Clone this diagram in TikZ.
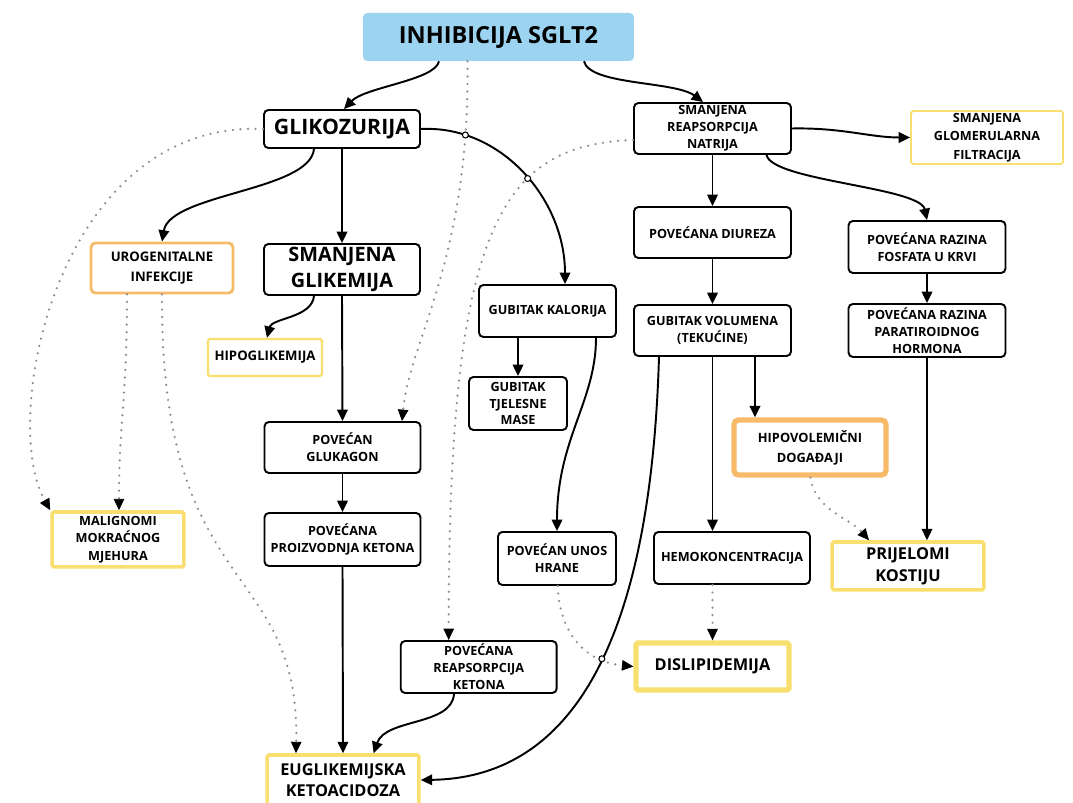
\documentclass[tikz,border=0pt]{standalone}
\usepackage{fontspec}
\setmainfont{Open Sans}
\usetikzlibrary{calc}
\usetikzlibrary{positioning}
\usetikzlibrary{arrows.meta}
\usetikzlibrary{intersections}

\definecolor{skyfill}{RGB}{155,211,240}
\definecolor{warnorange}{RGB}{246,186,104}
\definecolor{warnyellow}{RGB}{249,222,112}
\definecolor{dotgray}{RGB}{140,140,140}

\tikzset{
  box/.style={draw=black, line width=1.1pt, rounded corners=2.5pt, align=center, inner sep=0.5pt, font=\fontsize{7.2}{9.6}\selectfont\bfseries},
  bigbox/.style={box, font=\fontsize{11.3}{15}\selectfont\bfseries},
  topbox/.style={fill=skyfill, rounded corners=2.5pt, align=center, font=\fontsize{13.4}{15}\selectfont\bfseries},
  orangebox/.style={box, draw=warnorange},
  yellowbox/.style={box, draw=warnyellow, rounded corners=1pt},
  arr/.style={draw=black, line width=1.1pt, -{Triangle[length=6.5pt,width=6pt]}},
  dotarr/.style={draw=dotgray, line width=1.4pt, line cap=round, dash pattern=on 0pt off 4.3pt, -{Triangle[length=6.5pt,width=6pt,color=black,line width=0.5pt]}},
  hop/.style={draw=black, fill=white, line width=0.6pt}
}

\begin{document}
\begin{tikzpicture}[x=0.02cm, y=-0.02cm]
    \useasboundingbox (0,0) rectangle (1073,803);

    % Top
    \node[topbox, minimum width=5.42cm, minimum height=0.96cm] (inh) at (498.5,37) {INHIBICIJA SGLT2};

    % Glukoza branch
    \node[bigbox, font=\fontsize{12.1}{15}\selectfont\bfseries, minimum width=3.12cm, minimum height=0.76cm] (glik) at (342,129) {GLIKOZURIJA};
    \node[bigbox, minimum width=3.12cm, minimum height=1.02cm] (sglik) at (342,269.5) {SMANJENA\\GLIKEMIJA};
    \node[orangebox, line width=1.6pt, font=\fontsize{7.5}{11.3}\selectfont\bfseries, minimum width=2.84cm, minimum height=1cm] (uro) at (162,268) {UROGENITALNE\\INFEKCIJE};
    \node[yellowbox, line width=1.3pt, font=\fontsize{7.5}{9.6}\selectfont\bfseries, minimum width=2.28cm, minimum height=0.74cm] (hipo) at (265,357.5) {HIPOGLIKEMIJA};
    \node[box, minimum width=3.12cm, minimum height=1.02cm] (pglu) at (342.5,447.5) {POVEĆAN\\GLUKAGON};
    \node[box, minimum width=3.12cm, minimum height=1.06cm] (pket) at (342.5,539.5) {POVEĆANA\\PROIZVODNJA KETONA};
    \node[yellowbox, line width=2pt, font=\fontsize{7.2}{9.9}\selectfont\bfseries, minimum width=2.64cm, minimum height=1.1cm] (malig) at (118,539.5) {MALIGNOMI\\MOKRAĆNOG\\MJEHURA};
    \node[box, minimum width=3.12cm, minimum height=1.04cm] (prk) at (478.7,667) {POVEĆANA\\REAPSORPCIJA\\KETONA};
    \node[yellowbox, line width=2pt, font=\fontsize{9.3}{12}\selectfont\bfseries, minimum width=3.04cm, minimum height=1cm] (eugl) at (343,780) {EUGLIKEMIJSKA\\KETOACIDOZA};

    % Kalorije
    \node[box, minimum width=2.74cm, minimum height=1.04cm] (gkal) at (547.5,311) {GUBITAK KALORIJA};
    \node[box, minimum width=1.96cm, minimum height=1.06cm] (gtm) at (518,403.5) {GUBITAK\\TJELESNE\\MASE};
    \node[box, minimum width=2.36cm, minimum height=1.06cm] (punos) at (557,558.5) {POVEĆAN UNOS\\HRANE};

    % Natrij branch
    \node[box, minimum width=3.14cm, minimum height=1.02cm] (srn) at (712.5,128.5) {SMANJENA\\REAPSORPCIJA\\NATRIJA};
    \node[yellowbox, line width=1pt, font=\fontsize{7.2}{10.4}\selectfont\bfseries, minimum width=3.04cm, minimum height=1.06cm] (sgf) at (987,137.5) {SMANJENA\\GLOMERULARNA\\FILTRACIJA};
    \node[box, minimum width=3.14cm, minimum height=1.02cm] (pdiur) at (712.5,232.5) {POVEĆANA DIUREZA};
    \node[box, minimum width=3.14cm, minimum height=1.02cm] (gvol) at (712.5,330.5) {GUBITAK VOLUMENA\\(TEKUĆINE)};
    \node[box, minimum width=3.14cm, minimum height=1.04cm] (pfos) at (927,247) {POVEĆANA RAZINA\\FOSFATA U KRVI};
    \node[box, minimum width=3.14cm, minimum height=1.06cm] (ppar) at (927,330.5) {POVEĆANA RAZINA\\PARATIROIDNOG\\HORMONA};
    \node[orangebox, line width=3pt, font=\fontsize{7.3}{11.3}\selectfont\bfseries, minimum width=3.04cm, minimum height=1.1cm] (hipov) at (810,447.5) {HIPOVOLEMIČNI\\DOGAĐAJI};
    \node[box, minimum width=3.12cm, minimum height=1.04cm] (hemo) at (732,558) {HEMOKONCENTRACIJA};
    \node[yellowbox, line width=2pt, font=\fontsize{9.3}{12.3}\selectfont\bfseries, minimum width=3.04cm, minimum height=0.96cm] (prij) at (908,566) {PRIJELOMI\\KOSTIJU};
    \node[yellowbox, line width=3pt, font=\fontsize{9.3}{12}\selectfont\bfseries, minimum width=3.06cm, minimum height=0.94cm] (disl) at (712.5,666.5) {DISLIPIDEMIJA};

    % Straight arrows
    \foreach \a/\b in {glik/sglik, sglik/pglu, pglu/pket, pket/eugl, srn/pdiur, pdiur/gvol, pfos/ppar} {
        \draw[arr] (\a.south) -- (\b.north);
    }
    \draw[arr] (gtm.north |- gkal.south) -- (gtm.north);
    \draw[arr] (gvol.south) -- (gvol.south |- hemo.north);
    \coordinate (gvolR) at ($(gvol.south)+(42.5,0)$);
    \draw[arr] (gvolR) -- (gvolR |- hipov.north);
    \draw[arr] (ppar.south) -- (ppar.south |- prij.north);

    % Curved arrows
    \draw[arr] ($(inh.south)+(-59.5,0)$) .. controls +(-4,19) and +(21,-22) .. ($(glik.north)+(2,0)$);
    \draw[arr] ($(inh.south)+(85.5,0)$) .. controls +(6,24) and +(-28,-21) .. ($(srn.north)+(-9.5,0)$);
    \draw[arr, name path=arcK] (glik.east) .. controls +(80,-4) and +(0,-85) .. ($(gkal.north)+(17.5,0)$);
    \draw[arr] ($(glik.south)+(-28,0)$) .. controls +(-4,42) and +(8,-48) .. (uro.north);
    \draw[arr] ($(sglik.south)+(-28,0)$) .. controls +(-2,22) and +(5,-20) .. ($(hipo.north)+(2,0)$);
    \draw[arr] ($(prk.south)+(-24.7,0)$) .. controls +(-2,32) and +(12,-35) .. ($(eugl.north)+(30.6,0)$);
    \draw[arr] ($(gkal.south)+(48.5,0)$) .. controls +(0,63) and +(0,-92) .. (punos.north);
    \draw[arr] (srn.east) .. controls +(50,-1) and +(-40,0) .. (sgf.west);
    \draw[arr] ($(srn.south)+(54,0)$) .. controls +(5.5,26) and +(-7,-33) .. (pfos.north);
    \draw[arr, name path=arcE] ($(gvol.south)+(-53.5,0)$) .. controls +(-9,304) and +(141,-2) .. (eugl.east);

    % Dotted arrows
    \draw[dotarr, name path=dotA] ($(inh.south)+(-31,0)$) .. controls +(2.5,199) and +(8,-82) .. ($(pglu.north)+(59.5,0)$);
    \draw[dotarr, name path=dotB] ($(srn.west)+(0,11.5)$) .. controls +(-134,5) and +(0,-411) .. ($(prk.north)+(-30,0)$);
    \draw[dotarr] (glik.west) .. controls +(-204.5,-9) and +(-51.7,-92) .. (malig.north west);
    \draw[dotarr] ($(uro.south)+(-35,0)$) .. controls +(0,107) and +(0,-92) .. ($(malig.north)+(1,0)$);
    \draw[dotarr] (uro.south) .. controls +(-2,307) and +(4,-195) .. ($(eugl.north)+(-47,0)$);
    \draw[dotarr] ($(hipov.south)+(0.5,0)$) .. controls +(5,33) and +(-19,-22) .. ($(prij.north)+(-39,0)$);
    \draw[dotarr] (disl.north |- hemo.south) -- (disl.north);
    \draw[dotarr, name path=dotH] ($(punos.south)+(0.7,0)$) .. controls +(2,50) and +(-46,-4.5) .. (disl.west);

    % Line hops
    \path[name intersections={of=arcK and dotA, by=hopA}];
    \path[name intersections={of=arcK and dotB, by=hopB}];
    \path[name intersections={of=arcE and dotH, by=hopC}];
    \foreach \h in {hopA, hopB, hopC} {
        \draw[hop] (\h) circle (0.06cm);
    }
\end{tikzpicture}
\end{document}
